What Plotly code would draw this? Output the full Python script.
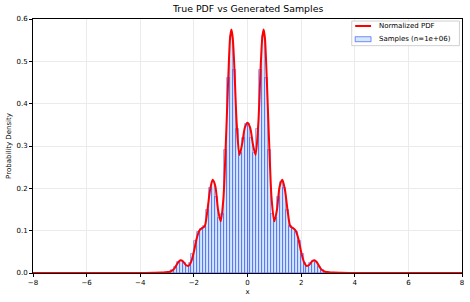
import plotly.graph_objects as go

# ---- Data ----
pdf_x = [-8.0, -5.0, -4.0, -3.5, -3.2, -3.0, -2.9, -2.8, -2.7, -2.6, -2.5, -2.4, -2.3, -2.2, -2.1,
         -2.0, -1.9, -1.8, -1.7, -1.6, -1.5, -1.4, -1.3, -1.2, -1.1, -1.0, -0.9, -0.8, -0.7,
         -0.65, -0.6, -0.55, -0.5, -0.4, -0.3, -0.2, -0.1, 0.0,
         0.1, 0.2, 0.3, 0.4, 0.5, 0.55, 0.6, 0.65, 0.7, 0.8, 0.9, 1.0, 1.1, 1.2, 1.3, 1.4,
         1.5, 1.6, 1.7, 1.8, 1.9, 2.0, 2.1, 2.2, 2.3, 2.4, 2.5, 2.6, 2.7, 2.8, 2.9, 3.0,
         3.2, 3.5, 4.0, 5.0, 8.0]
pdf_y = [0.0, 0.0, 0.0001, 0.0005, 0.001, 0.002, 0.003, 0.006, 0.013, 0.024, 0.030, 0.027, 0.019, 0.017, 0.027,
         0.050, 0.080, 0.100, 0.106, 0.110, 0.145, 0.195, 0.220, 0.205, 0.150, 0.122, 0.175, 0.320, 0.490,
         0.555, 0.575, 0.555, 0.500, 0.350, 0.279, 0.305, 0.343, 0.355,
         0.343, 0.305, 0.279, 0.350, 0.500, 0.555, 0.575, 0.555, 0.490, 0.320, 0.175, 0.122, 0.150, 0.205, 0.220, 0.195,
         0.145, 0.110, 0.106, 0.100, 0.080, 0.050, 0.027, 0.017, 0.019, 0.027, 0.030, 0.024, 0.013, 0.006, 0.003, 0.002,
         0.001, 0.0005, 0.0001, 0.0, 0.0]

hist_start = -3.3
hist_width = 0.11
hist_heights = [0.0004, 0.0008, 0.0015, 0.003, 0.006, 0.014, 0.025, 0.029, 0.023, 0.017,
                0.024, 0.045, 0.075, 0.098, 0.105, 0.112, 0.150, 0.200, 0.215, 0.180,
                0.130, 0.140, 0.290, 0.460, 0.560, 0.480, 0.340, 0.283, 0.320, 0.352,
                0.352, 0.320, 0.283, 0.340, 0.480, 0.560, 0.460, 0.290, 0.140, 0.130,
                0.180, 0.215, 0.200, 0.150, 0.112, 0.105, 0.098, 0.075, 0.045, 0.024,
                0.017, 0.023, 0.029, 0.025, 0.014, 0.006, 0.003, 0.0015, 0.0008, 0.0004]

x_ticks = [-8, -6, -4, -2, 0, 2, 4, 6, 8]
y_ticks = [0.0, 0.1, 0.2, 0.3, 0.4, 0.5, 0.6]

pdf_label = "Normalized PDF"
hist_label = "Samples (n=1e+06)"

hist_centers = [hist_start + hist_width * (i + 0.5) for i in range(len(hist_heights))]

BAR_FILL = "rgba(135,206,235,0.4)"
BAR_EDGE = "rgba(0,0,255,0.45)"

fig = go.Figure()
fig.add_trace(go.Bar(
    x=hist_centers, y=hist_heights, width=hist_width,
    marker=dict(color=BAR_FILL, line=dict(color=BAR_EDGE, width=0.8)),
    name=hist_label, showlegend=False,
))
fig.add_trace(go.Scatter(
    x=pdf_x, y=pdf_y, mode="lines",
    line=dict(color="red", width=2, shape="spline", smoothing=0.8),
    name=pdf_label, showlegend=False,
))

font = "DejaVu Sans"

# compact matplotlib-style legend drawn in paper coordinates
fig.add_shape(type="rect", xref="paper", yref="paper", x0=0.743, x1=0.994, y0=0.895, y1=0.992,
              line=dict(color="#d0d0d0", width=1), fillcolor="rgba(255,255,255,0.8)", layer="above")
fig.add_shape(type="line", xref="paper", yref="paper", x0=0.751, x1=0.788, y0=0.9724, y1=0.9724,
              line=dict(color="red", width=2), layer="above")
fig.add_shape(type="rect", xref="paper", yref="paper", x0=0.751, x1=0.788, y0=0.9106, y1=0.9303,
              line=dict(color=BAR_EDGE, width=1), fillcolor="rgba(135,206,235,0.4)", layer="above")
fig.add_annotation(xref="paper", yref="paper", x=0.801, y=0.9724, xanchor="left", yanchor="middle",
                   text=pdf_label, showarrow=False, font=dict(size=7, family=font))
fig.add_annotation(xref="paper", yref="paper", x=0.801, y=0.9213, xanchor="left", yanchor="middle",
                   text=hist_label, showarrow=False, font=dict(size=7, family=font))

fig.update_layout(
    width=470, height=302,
    margin=dict(l=33, r=8, t=19, b=29, autoexpand=False),
    paper_bgcolor="white", plot_bgcolor="white",
    font=dict(family=font, size=7, color="black"),
    title=dict(text="True PDF vs Generated Samples", x=0.528, xanchor="center",
               xref="container", yref="container", y=1 - 5 / 302, yanchor="top",
               font=dict(size=9.4, family=font)),
    showlegend=False,
    bargap=0,
)
fig.update_xaxes(
    range=[-8, 8], tickvals=x_ticks, ticktext=[("\u2212" + str(-v)) if v < 0 else str(v) for v in x_ticks],
    showline=True, linecolor="black", linewidth=1, mirror=True, automargin=False,
    ticks="outside", ticklen=3, tickwidth=0.8, tickcolor="black",
    showgrid=True, gridcolor="#ebebeb", gridwidth=0.8, zeroline=False,
    title=dict(text="x", font=dict(size=7, family=font), standoff=2),
)
fig.update_yaxes(
    range=[0, 0.6], tickvals=y_ticks, ticktext=[f"{v:.1f}" for v in y_ticks],
    showline=True, linecolor="black", linewidth=1, mirror=True, automargin=False,
    ticks="outside", ticklen=3, tickwidth=0.8, tickcolor="black",
    showgrid=True, gridcolor="#ebebeb", gridwidth=0.8, zeroline=False,
    title=dict(text="Probability Density", font=dict(size=7, family=font), standoff=4),
)

fig.write_html("out.html", config={"displayModeBar": False},
               post_script="document.body.style.margin='0px';document.body.style.overflow='hidden';")
